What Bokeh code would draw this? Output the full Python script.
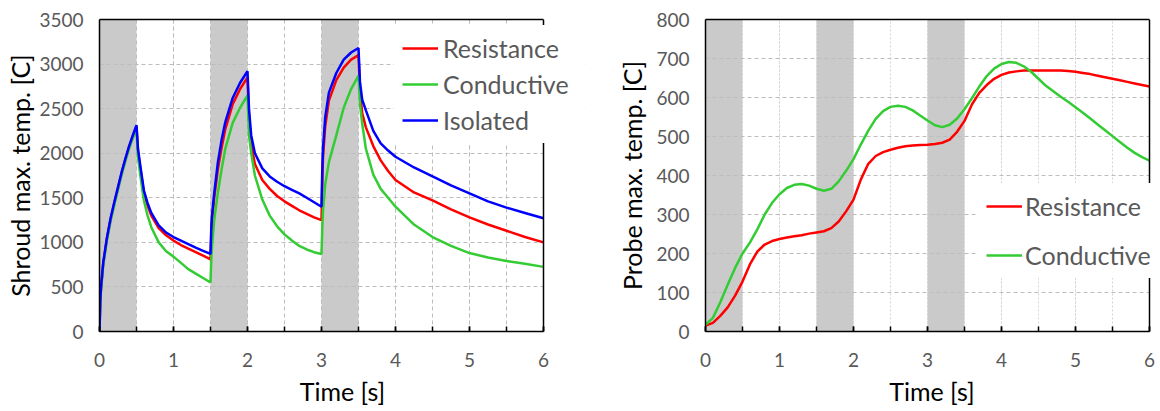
from bokeh.plotting import figure
from bokeh.layouts import row
from bokeh.models import (Range1d, SingleIntervalTicker, FixedTicker, BoxAnnotation, Legend,
                          LegendItem, LinearAxis, Span, Title)
from bokeh.embed import file_html
from bokeh.resources import INLINE

# ---------------- data ----------------
heat_start = [0.0, 1.5, 3.0]
heat_end = [0.5, 2.0, 3.5]

shroud_time = [0, 0.01, 0.02, 0.05, 0.1, 0.15, 0.2, 0.25, 0.3, 0.35, 0.4, 0.45, 0.5,
               0.52, 0.55, 0.6, 0.65, 0.7, 0.8, 0.9, 1.0, 1.1, 1.2, 1.3, 1.4, 1.5,
               1.51, 1.52, 1.55, 1.6, 1.65, 1.7, 1.8, 1.9, 2.0,
               2.02, 2.05, 2.1, 2.2, 2.3, 2.4, 2.5, 2.6, 2.7, 2.8, 2.9, 3.0,
               3.01, 3.02, 3.05, 3.1, 3.2, 3.3, 3.4, 3.5,
               3.52, 3.55, 3.6, 3.7, 3.8, 3.9, 4.0, 4.25, 4.5, 4.75, 5.0, 5.25, 5.5, 5.75, 6.0]

shroud_resistance = [0, 330, 480, 760, 1040, 1260, 1440, 1610, 1780, 1930, 2070, 2190, 2300,
                     2020, 1840, 1560, 1410, 1300, 1160, 1080, 1020, 970, 930, 890, 850, 810,
                     1080, 1240, 1500, 1820, 2060, 2270, 2550, 2720, 2850,
                     2400, 2100, 1880, 1700, 1600, 1520, 1460, 1410, 1360, 1320, 1280, 1250,
                     1650, 1950, 2300, 2590, 2820, 2960, 3050, 3100,
                     2700, 2450, 2290, 2080, 1920, 1800, 1700, 1560, 1470, 1370, 1280, 1200, 1130, 1060, 1000]

shroud_conductive = [0, 320, 460, 740, 1020, 1240, 1420, 1590, 1760, 1910, 2050, 2170, 2270,
                     1950, 1760, 1470, 1300, 1170, 1000, 900, 840, 770, 700, 650, 600, 550,
                     800, 950, 1250, 1560, 1820, 2050, 2340, 2510, 2650,
                     2200, 2000, 1750, 1480, 1300, 1180, 1090, 1020, 960, 920, 890, 870,
                     1150, 1350, 1650, 1900, 2200, 2510, 2720, 2870,
                     2550, 2330, 2050, 1760, 1600, 1500, 1400, 1200, 1060, 960, 880, 830, 790, 760, 725]

shroud_isolated = [0, 340, 490, 770, 1050, 1270, 1450, 1620, 1790, 1940, 2080, 2200, 2315,
                   2050, 1870, 1580, 1440, 1330, 1190, 1110, 1060, 1020, 980, 940, 905, 870,
                   1150, 1300, 1550, 1900, 2150, 2350, 2620, 2790, 2920,
                   2500, 2200, 2000, 1830, 1740, 1680, 1630, 1590, 1550, 1500, 1450, 1400,
                   1800, 2050, 2400, 2680, 2900, 3050, 3130, 3180,
                   2800, 2600, 2480, 2250, 2110, 2030, 1960, 1840, 1740, 1640, 1550, 1460, 1390, 1330, 1270]

probe_time = [0.0, 0.1, 0.2, 0.3, 0.4, 0.5, 0.6, 0.7, 0.8, 0.9,
              1.0, 1.1, 1.2, 1.3, 1.4, 1.5, 1.6, 1.7, 1.8, 1.9,
              2.0, 2.1, 2.2, 2.3, 2.4, 2.5, 2.6, 2.7, 2.8, 2.9,
              3.0, 3.1, 3.2, 3.3, 3.4, 3.5, 3.6, 3.7, 3.8, 3.9,
              4.0, 4.1, 4.2, 4.3, 4.4, 4.5, 4.6, 4.7, 4.8, 4.9,
              5.0, 5.1, 5.2, 5.3, 5.4, 5.5, 5.6, 5.7, 5.8, 5.9, 6.0]

probe_resistance = [15, 22, 40, 62, 92, 128, 172, 205, 223, 232,
                    237, 241, 244, 247, 251, 254, 257, 265, 282, 308,
                    338, 390, 430, 450, 460, 466, 471, 475, 477, 478,
                    479, 481, 484, 492, 512, 540, 582, 612, 632, 648,
                    658, 664, 667, 669, 669, 669, 669, 669, 669, 668,
                    666, 663, 660, 656, 652, 648, 644, 640, 636, 632, 628]

probe_conductive = [17, 35, 75, 120, 163, 200, 228, 262, 300, 330,
                    352, 368, 376, 378, 374, 366, 361, 366, 385, 412,
                    442, 480, 515, 545, 565, 576, 579, 576, 567, 554,
                    541, 529, 524, 530, 546, 570, 598, 628, 655, 674,
                    686, 691, 689, 680, 666, 648, 630, 616, 602, 589,
                    575, 561, 546, 531, 516, 501, 486, 471, 458, 447, 438]

x_min, x_max = 0, 6
x_ticks_interval = 1
shroud_y_max, shroud_y_interval = 3500, 500
probe_y_max, probe_y_interval = 800, 100
x_title = "Time [s]"

# ---------------- style ----------------
FONT = "Lato"
TICK_COLOR = "#595959"
RED = "#ff0000"
GREEN = "#33cc33"
BLUE = "#0000ff"
BAND = "#cacaca"
GRID = "#bdbdbd"
LW = 2.5
DATA_W = 444  # pixel width of the 0..6 data area


def make_fig(width, left, frame_w, top, bottom, ymax, yint, ylabel):
    # frame is wider than the data area so that the legend can overlap the right border
    x_end = x_max * frame_w / DATA_W
    right = width - left - frame_w
    p = figure(width=width, height=411, output_backend="svg", toolbar_location=None,
               x_range=Range1d(x_min, x_end), y_range=Range1d(0, ymax),
               min_border_left=left, min_border_right=right,
               min_border_top=top, min_border_bottom=bottom)
    p.outline_line_color = None
    p.background_fill_color = "white"
    p.border_fill_color = "white"

    xt = SingleIntervalTicker(interval=x_ticks_interval, num_minor_ticks=2)
    yt = SingleIntervalTicker(interval=yint, num_minor_ticks=0)
    p.xaxis.ticker = xt
    p.yaxis.ticker = yt
    p.xgrid.ticker = xt
    p.ygrid.ticker = yt
    p.xaxis.bounds = (x_min, x_max)
    p.xgrid.bounds = (x_min, x_max)

    for ax in (p.xaxis[0], p.yaxis[0]):
        ax.axis_line_color = "black"
        ax.axis_line_width = 1.5
        ax.major_label_text_font = FONT
        ax.major_label_text_font_size = "19px"
        ax.major_label_text_color = TICK_COLOR
        ax.axis_label_text_font = FONT
        ax.axis_label_text_font_size = "25px"
        ax.axis_label_text_font_style = "normal"
        ax.axis_label_text_color = "black"
    p.xaxis.major_tick_in = 5
    p.xaxis.major_tick_out = 0
    p.xaxis.minor_tick_in = 5
    p.xaxis.minor_tick_out = 0
    p.xaxis.major_tick_line_color = "black"
    p.xaxis.minor_tick_line_color = "black"
    p.xaxis.major_tick_line_width = 1.5
    p.xaxis.minor_tick_line_width = 1.5
    p.xaxis.major_label_standoff = 21

    p.yaxis.major_tick_in = 0
    p.yaxis.major_tick_out = 0
    p.yaxis.minor_tick_line_color = None
    p.yaxis.major_label_standoff = 16
    p.yaxis.axis_label = ylabel
    p.yaxis.axis_label_standoff = 1

    p.xgrid.grid_line_color = GRID
    p.xgrid.grid_line_dash = "4 3"
    p.xgrid.minor_grid_line_color = GRID
    p.xgrid.minor_grid_line_dash = "4 3"
    p.ygrid.grid_line_color = GRID
    p.ygrid.grid_line_dash = "4 3"

    for s, e in zip(heat_start, heat_end):
        p.add_layout(BoxAnnotation(left=s, right=e, fill_color=BAND, fill_alpha=1.0,
                                   line_alpha=0, level="image"))
    # blank out the grid beyond the data area
    p.add_layout(BoxAnnotation(left=x_max, fill_color="white", fill_alpha=1.0,
                               line_alpha=0, level="underlay"))
    # top border
    top_axis = LinearAxis(ticker=FixedTicker(ticks=[]), bounds=(x_min, x_max),
                          axis_line_color="black", axis_line_width=1.5,
                          major_tick_line_color=None, minor_tick_line_color=None,
                          major_label_text_font_size="0px")
    p.add_layout(top_axis, "above")
    # right border
    p.add_layout(Span(location=x_max, dimension="height", line_color="black",
                      line_width=1.5))
    # x-axis title, centred on the data area (not on the wider frame)
    p.add_layout(Title(text=x_title, align="center", offset=-(frame_w - DATA_W) / 2,
                       text_font=FONT, text_font_size="25px", text_font_style="normal",
                       text_color="black", standoff=9), "below")
    return p


def style_legend(lg, spacing, standoff):
    lg.label_text_font = FONT
    lg.label_text_font_size = "25px"
    lg.label_text_color = TICK_COLOR
    lg.glyph_width = 36
    lg.glyph_height = 20
    lg.label_height = 20
    lg.label_standoff = standoff
    lg.spacing = spacing
    lg.padding = 8
    lg.margin = 0
    lg.border_line_alpha = 0
    lg.background_fill_color = "white"
    lg.background_fill_alpha = 1.0


# Left: shroud
p1 = make_fig(600, 99, 486, 18, 79, shroud_y_max, shroud_y_interval, "Shroud max. temp. [C]")
r_res = p1.line(shroud_time, shroud_resistance, line_color=RED, line_width=LW)
r_con = p1.line(shroud_time, shroud_conductive, line_color=GREEN, line_width=LW)
r_iso = p1.line(shroud_time, shroud_isolated, line_color=BLUE, line_width=LW)
leg1 = Legend(items=[LegendItem(label="Resistance", renderers=[r_res]),
                     LegendItem(label="Conductive", renderers=[r_con]),
                     LegendItem(label="Isolated", renderers=[r_iso])],
              location=(295, 188))
style_legend(leg1, 6, 5)
p1.add_layout(leg1)

# Right: probe
p2 = make_fig(560, 105, 453, 19, 80, probe_y_max, probe_y_interval, "Probe max. temp. [C]")
p2.xgrid.grid_line_color = "#d4d4d4"
p2.xgrid.minor_grid_line_color = "#d4d4d4"
p2.xgrid.grid_line_dash = "2 2"
p2.xgrid.minor_grid_line_dash = "2 2"
p2.yaxis.axis_label_standoff = 6
q_res = p2.line(probe_time, probe_resistance, line_color=RED, line_width=LW)
q_con = p2.line(probe_time, probe_conductive, line_color=GREEN, line_width=LW)
leg2 = Legend(items=[LegendItem(label="Resistance", renderers=[q_res]),
                     LegendItem(label="Conductive", renderers=[q_con])],
              location=(273, 53))
style_legend(leg2, 19, 3)
p2.add_layout(leg2)

layout = row(p1, p2)
open("out.html", "w").write(file_html(layout, INLINE))
